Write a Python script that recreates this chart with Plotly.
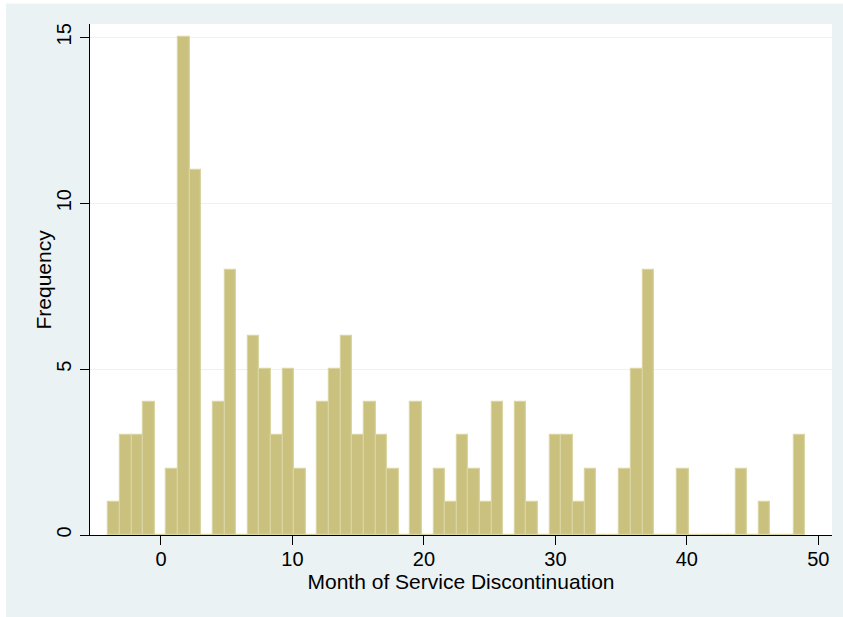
import plotly.graph_objects as go

# Histogram: 60 bins spanning -4 .. 49
bin_start = -4.0
bin_end = 49.0
frequencies = [1, 3, 3, 4, 0, 2, 15, 11, 0, 4,
               8, 0, 6, 5, 3, 5, 2, 0, 4, 5,
               6, 3, 4, 3, 2, 0, 4, 0, 2, 1,
               3, 2, 1, 4, 0, 4, 1, 0, 3, 3,
               1, 2, 0, 0, 2, 5, 8, 0, 0, 2,
               0, 0, 0, 0, 2, 0, 1, 0, 0, 3]
x_ticks = [0, 10, 20, 30, 40, 50]
y_ticks = [0, 5, 10, 15]
x_title = "Month of Service Discontinuation"
y_title = "Frequency"

n_bins = len(frequencies)
bw = (bin_end - bin_start) / n_bins
centers = [bin_start + (k + 0.5) * bw for k in range(n_bins)]

# figure slightly larger than the window so the background fills to the edges
W, H = 860, 630
ml, mt = 90, 24
plot_right, plot_bottom = 832, 535
mr, mb = W - plot_right, H - plot_bottom
pw = W - ml - mr
ph = H - mt - mb

fig = go.Figure()
fig.add_trace(go.Bar(
    x=centers, y=frequencies, width=bw,
    marker=dict(color="#C9C17D", line=dict(color="#DAD5A0", width=1.2)),
    hoverinfo="x+y",
))

font = "Liberation Sans, Arial, Helvetica, sans-serif"
bg = "#EAF2F3"
fs_tick = 20
fs_title = 21

fig.update_layout(
    width=W, height=H,
    margin=dict(l=ml, r=mr, t=mt, b=mb, pad=0),
    paper_bgcolor=bg, plot_bgcolor="white",
    bargap=0, showlegend=False,
    font=dict(family=font, size=fs_tick, color="black"),
    xaxis=dict(
        range=[-5.40, 51.04], tickvals=x_ticks, ticks="outside", ticklen=9,
        tickcolor="black", tickwidth=1, showline=True, linecolor="black",
        linewidth=1, showgrid=False, zeroline=False, ticklabelstandoff=-3,
        title=dict(text=x_title, standoff=0, font=dict(size=fs_title)),
        tickfont=dict(size=fs_tick),
    ),
    yaxis=dict(
        range=[0, 511 / 33.18], tickvals=y_ticks, ticks="outside", ticklen=9,
        tickcolor="black", tickwidth=1, showline=True, linecolor="black",
        linewidth=1, showgrid=True, gridcolor=bg, gridwidth=1,
        zeroline=False, tickangle=-90, ticklabelstandoff=1,
        tickfont=dict(size=fs_tick),
    ),
    annotations=[
        dict(text=y_title, xref="paper", yref="paper",
             x=(43 - ml) / pw, y=0.5, xanchor="center", yanchor="middle",
             textangle=-90, showarrow=False, font=dict(size=fs_title)),
    ],
    shapes=[
        dict(type="rect", xref="paper", yref="paper",
             x0=-0.3, x1=(6 - ml) / pw, y0=-0.5, y1=1.5,
             fillcolor="white", line=dict(width=0), layer="above"),
        dict(type="rect", xref="paper", yref="paper",
             x0=-0.3, x1=1.3, y0=(plot_bottom - 3.5) / ph, y1=1.5,
             fillcolor="white", line=dict(width=0), layer="above"),
    ],
)

post = (
    "document.body.style.margin='0px';"
    "document.body.style.overflow='hidden';"
    "document.documentElement.style.overflow='hidden';"
    "document.documentElement.style.background='" + bg + "';"
    "document.body.style.background='" + bg + "';"
)
fig.write_html("out.html", config={"displayModeBar": False}, post_script=post)
